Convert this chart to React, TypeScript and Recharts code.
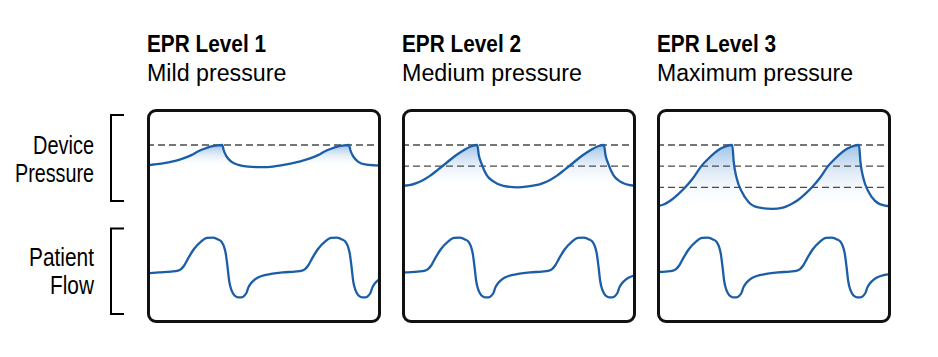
import React from "react";
import { ComposedChart, Area, Line, XAxis, YAxis, ReferenceLine } from "recharts";

type Pt = [number, number];

// Panel titles
const titles = ["EPR Level 1", "EPR Level 2", "EPR Level 3"];
const subtitles = ["Mild pressure", "Medium pressure", "Maximum pressure"];
const rowLabels = [["Device", "Pressure"], ["Patient", "Flow"]];

// Pressure levels (arbitrary units): base level per panel and dashed marks
const pressureBase = [2, 1, 0];
const pressureMarks = [[3], [3, 2], [3, 2, 1]];

// Device pressure traces (t = time, arbitrary units; p = pressure level)
const pressure1: Pt[] = [
  [0, 2.04], [7.3, 2.08], [14.3, 2.12], [21.3, 2.18], [28.3, 2.25], [36.3, 2.37], [44.3, 2.52],
  [51.3, 2.7], [57.3, 2.82], [63.3, 2.92], [69.3, 2.97], [75.3, 3.0], [76.7, 2.75], [79.7, 2.45],
  [84.7, 2.2], [91.3, 2.06], [101.3, 1.98], [115.3, 1.95], [126, 1.98], [134, 2.04], [141, 2.1],
  [148, 2.17], [155, 2.25], [163, 2.37], [171, 2.52], [178, 2.7], [184, 2.82], [190, 2.92],
  [196, 2.97], [202, 3.0], [203.4, 2.75], [206.4, 2.45], [211.4, 2.2], [218, 2.08], [228, 2.04], [234, 2.03],
];
const pressure2: Pt[] = [
  [0, 1.07], [7.3, 1.1], [14.3, 1.2], [21.3, 1.35], [28.3, 1.55], [36.3, 1.85], [44.3, 2.15],
  [51.3, 2.42], [57.3, 2.62], [63.3, 2.8], [69.3, 2.94], [75.3, 3.0], [76.7, 2.55], [79.7, 2.1],
  [84.7, 1.58], [91.3, 1.28], [101.3, 1.07], [115.3, 1.0], [126, 1.04], [134, 1.1], [141, 1.2],
  [148, 1.35], [155, 1.55], [163, 1.85], [171, 2.15], [178, 2.42], [184, 2.62], [190, 2.8],
  [196, 2.94], [202, 3.0], [203.4, 2.55], [206.4, 2.1], [211.4, 1.58], [218, 1.28], [228, 1.1], [234, 1.07],
];
const pressure3: Pt[] = [
  [0, 0.1], [7.3, 0.2], [14.3, 0.4], [21.3, 0.68], [28.3, 1.0], [36.3, 1.45], [44.3, 2.0],
  [51.3, 2.35], [57.3, 2.62], [63.3, 2.82], [69.3, 2.95], [75.3, 3.0], [76.7, 2.21], [79.7, 1.43],
  [84.7, 0.8], [91.3, 0.32], [101.3, 0.05], [115.3, -0.02], [126, 0.04], [134, 0.2], [141, 0.4],
  [148, 0.68], [155, 1.0], [163, 1.45], [171, 2.0], [178, 2.35], [184, 2.62], [190, 2.82],
  [196, 2.95], [202, 3.0], [203.4, 2.21], [206.4, 1.43], [211.4, 0.8], [218, 0.36], [228, 0.13], [234, 0.1],
];

// Patient flow traces (t = time; f = flow)
const flow1: Pt[] = [
  [0, -0.03], [12, 0.05], [24, 0.12], [31, 0.2], [34, 0.32], [37, 0.6], [41, 1.2], [47, 2.0],
  [54, 2.62], [60, 2.92], [66, 2.94], [71, 2.8], [74.7, 2.58], [77, 2.2], [78.8, 1.6], [80.3, 0.67],
  [82.3, -0.73], [84.8, -1.5], [87.5, -1.88], [91, -2.03], [94.5, -2.03], [97.3, -1.9], [99.7, -1.62],
  [101.3, -1.22], [104, -0.86], [108, -0.53], [114.7, -0.25], [124, -0.08], [136, 0.05], [148, 0.12],
  [155, 0.2], [158, 0.32], [161, 0.6], [165, 1.2], [171, 2.0], [178, 2.62], [184, 2.92], [190, 2.94],
  [195, 2.8], [198.7, 2.58], [201, 2.2], [202.8, 1.6], [204.3, 0.67], [206.3, -0.73], [208.8, -1.5],
  [211.5, -1.88], [215, -2.03], [218.5, -2.03], [221.3, -1.9], [223.7, -1.62], [225.3, -1.22],
  [228, -0.86], [232, -0.53], [238.7, -0.25], [248, -0.08],
];
const flow2: Pt[] = [
  [0, 0.02], [4, 0.05], [16, 0.12], [23, 0.2], [26, 0.32], [29, 0.6], [33, 1.2], [39, 2.0],
  [46, 2.62], [52, 2.92], [58, 2.94], [63, 2.8], [66.7, 2.58], [69, 2.2], [70.8, 1.6], [72.3, 0.67],
  [74.3, -0.73], [76.8, -1.5], [79.5, -1.88], [83, -2.03], [86.5, -2.03], [89.3, -1.9], [91.7, -1.62],
  [93.3, -1.22], [96, -0.86], [100, -0.53], [106.7, -0.25], [116, -0.08], [128, 0.05], [140, 0.12],
  [147, 0.2], [150, 0.32], [153, 0.6], [157, 1.2], [163, 2.0], [170, 2.62], [176, 2.92], [182, 2.94],
  [187, 2.8], [190.7, 2.58], [193, 2.2], [194.8, 1.6], [196.3, 0.67], [198.3, -0.73], [200.8, -1.5],
  [203.5, -1.88], [207, -2.03], [210.5, -2.03], [213.3, -1.9], [215.7, -1.62], [217.3, -1.22],
  [220, -0.86], [224, -0.53], [230.7, -0.25], [240, -0.08],
];
const flow3: Pt[] = [
  [0, 0.08], [9, 0.12], [16, 0.2], [19, 0.32], [22, 0.6], [26, 1.2], [32, 2.0], [39, 2.62],
  [45, 2.92], [51, 2.94], [56, 2.8], [59.7, 2.58], [62, 2.2], [63.8, 1.6], [65.3, 0.67], [67.3, -0.73],
  [69.8, -1.5], [72.5, -1.88], [76, -2.03], [79.5, -2.03], [82.3, -1.9], [84.7, -1.62], [86.3, -1.22],
  [89, -0.86], [93, -0.53], [99.7, -0.25], [109, -0.08], [121, 0.05], [133, 0.12], [140, 0.2],
  [143, 0.32], [146, 0.6], [150, 1.2], [156, 2.0], [163, 2.62], [169, 2.92], [175, 2.94], [180, 2.8],
  [183.7, 2.58], [186, 2.2], [187.8, 1.6], [189.3, 0.67], [191.3, -0.73], [193.8, -1.5], [196.5, -1.88],
  [200, -2.03], [203.5, -2.03], [206.3, -1.9], [208.7, -1.62], [210.3, -1.22], [213, -0.86],
  [217, -0.53], [223.7, -0.25], [233, -0.08], [245, 0.05],
];

const pressureSeries = [pressure1, pressure2, pressure3];
const flowSeries = [flow1, flow2, flow3];

const PANEL_W = 234;
const PANEL_H = 214;
const PANEL_TOP = 109;
const PANEL_LEFTS = [147, 402, 657];
const BLUE = "#1b5ea6";
const FONT = "'Liberation Sans', Arial, sans-serif";
const NARROW = "'Liberation Sans Narrow', 'Liberation Sans', Arial, sans-serif";

const toRows = (pts: Pt[], key: string) => pts.map(([t, v]) => ({ t, [key]: v }));

function Panel({ i }: { i: number }) {
  const pData = toRows(pressureSeries[i], "p");
  const fData = toRows(flowSeries[i], "f");
  return (
    <div style={{ position: "absolute", left: PANEL_LEFTS[i], top: PANEL_TOP, width: PANEL_W, height: PANEL_H }}>
      <ComposedChart width={PANEL_W} height={PANEL_H} margin={{ top: 0, right: 0, bottom: 0, left: 0 }}>
        <defs>
          <linearGradient id={`epr-fill-${i}`} x1="0" y1="0" x2="0" y2="1">
            <stop offset="0" stopColor="#9ec2e8" stopOpacity={1} />
            <stop offset="1" stopColor="#ffffff" stopOpacity={0} />
          </linearGradient>
        </defs>
        <XAxis type="number" dataKey="t" domain={[0, 234]} hide allowDataOverflow />
        <YAxis yAxisId="p" type="number" domain={[-5.41, 4.7]} hide allowDataOverflow />
        <YAxis yAxisId="f" type="number" domain={[-4.17, 13.67]} hide allowDataOverflow />
        <Area
          yAxisId="p"
          data={pData}
          dataKey="p"
          type="monotone"
          baseValue={pressureBase[i]}
          fill={`url(#epr-fill-${i})`}
          fillOpacity={1}
          stroke="none"
          isAnimationActive={false}
        />
        {pressureMarks[i].map((v) => (
          <ReferenceLine key={v} yAxisId="p" y={v} stroke="#4a4a4a" strokeWidth={1.3} strokeDasharray="7 4" />
        ))}
        <Line
          yAxisId="p"
          data={pData}
          dataKey="p"
          type="monotone"
          stroke={BLUE}
          strokeWidth={2.3}
          dot={false}
          activeDot={false}
          isAnimationActive={false}
        />
        <Line
          yAxisId="f"
          data={fData}
          dataKey="f"
          type="monotone"
          stroke={BLUE}
          strokeWidth={2.3}
          dot={false}
          activeDot={false}
          isAnimationActive={false}
        />
      </ComposedChart>
      <div
        style={{
          position: "absolute",
          left: 0,
          top: 0,
          width: PANEL_W,
          height: PANEL_H,
          boxSizing: "border-box",
          border: "3px solid #111",
          borderRadius: 9,
          pointerEvents: "none",
        }}
      />
    </div>
  );
}

const titleLengths = [119, 119, 119];
const subtitleLengths = [139.4, 180, 196];
const labelLayout = [
  [{ x: 33, w: 61, y: 154 }, { x: 15, w: 79, y: 181.7 }],
  [{ x: 29, w: 65, y: 265.7 }, { x: 50, w: 44, y: 294.3 }],
];

export default function App() {
  return (
    <div style={{ position: "absolute", left: 0, top: 0, width: 938, height: 357, background: "#fff", overflow: "hidden" }}>
      <svg width={938} height={357} style={{ position: "absolute", left: 0, top: 0 }}>
        {titles.map((t, i) => (
          <text
            key={t}
            x={PANEL_LEFTS[i]}
            y={51.7}
            fontFamily={FONT}
            fontWeight="bold"
            fontSize={23}
            fill="#000"
            textLength={titleLengths[i]}
            lengthAdjust="spacingAndGlyphs"
          >
            {t}
          </text>
        ))}
        {subtitles.map((t, i) => (
          <text
            key={t}
            x={PANEL_LEFTS[i]}
            y={81}
            fontFamily={FONT}
            fontSize={23}
            fill="#000"
            textLength={subtitleLengths[i]}
            lengthAdjust="spacingAndGlyphs"
          >
            {t}
          </text>
        ))}
        {rowLabels.map((pair, r) =>
          pair.map((word, k) => (
            <text
              key={word}
              x={labelLayout[r][k].x}
              y={labelLayout[r][k].y}
              fontFamily={NARROW}
              fontSize={25}
              fill="#000"
              textLength={labelLayout[r][k].w}
              lengthAdjust="spacingAndGlyphs"
            >
              {word}
            </text>
          ))
        )}
        <path d="M124 115 H111 V201 H124" fill="none" stroke="#000" strokeWidth={2} />
        <path d="M124 228.5 H111 V314 H124" fill="none" stroke="#000" strokeWidth={2} />
      </svg>
      {[0, 1, 2].map((i) => (
        <Panel key={i} i={i} />
      ))}
    </div>
  );
}
